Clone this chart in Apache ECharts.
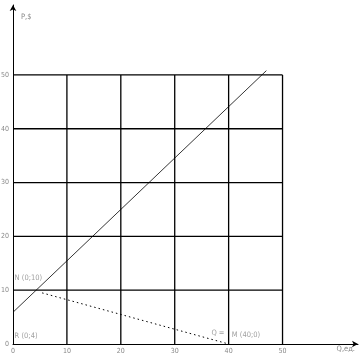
<!DOCTYPE html>
<html><head><meta charset="utf-8">
<script src="https://cdn.jsdelivr.net/npm/echarts@6/dist/echarts.min.js"></script>
<style>html,body{margin:0;padding:0;background:#fff}#c{width:362px;height:356px}</style>
</head><body><div id="c"></div>
<script>
var gridTicks = [10, 20, 30, 40, 50];
var gridMax = 50;
var supplyLine = [[0, 5.9], [47, 50.8]];
var demandLine = [[5.4, 9.5], [40, 0]];
var pointLabels = [
  {name: 'N (0;10)', value: [0.3, 12.3]},
  {name: 'R (0;4)', value: [0.3, 1.5]},
  {name: 'Q =', value: [36.8, 2.0]},
  {name: 'M (40;0)', value: [40.6, 1.6]}
];
var xName = 'Q,ед.';
var yName = 'P,$';

var font = '"Liberation Sans Narrow","DejaVu Sans Condensed",sans-serif';
var gridSeriesData = [];
gridTicks.forEach(function (t) {
  gridSeriesData.push([[0, t], [gridMax, t]]);
  gridSeriesData.push([[t, 0], [t, gridMax]]);
});
var series = [];
gridSeriesData.forEach(function (seg) {
  series.push({type: 'line', data: seg, symbol: 'none', silent: true,
    lineStyle: {color: '#000', width: 1.3}, animation: false});
});
series.push({type: 'line', data: supplyLine, symbol: 'none',
  lineStyle: {color: '#000', width: 0.8}, animation: false});
series.push({type: 'line', data: demandLine, symbol: 'none',
  lineStyle: {color: '#000', width: 1, type: [1.5, 3]}, animation: false});
series.push({type: 'scatter', data: pointLabels, symbolSize: 0, animation: false,
  label: {show: true, position: 'right', distance: 0, formatter: '{b}',
    color: '#888', fontSize: 7.5, fontFamily: font}});

var chart = echarts.init(document.getElementById('c'));
chart.setOption({
  animation: false,
  grid: {left: 13, right: 4, top: 5, bottom: 12, containLabel: false, outerBoundsMode: 'none'},
  xAxis: {type: 'value', min: 0, max: 64, interval: 10,
    name: xName, nameLocation: 'end', nameGap: -3,
    nameTextStyle: {color: '#888', fontSize: 7.5, fontFamily: font, align: 'right', verticalAlign: 'top', padding: [1, 0, 0, 0]},
    axisLine: {lineStyle: {color: '#000', width: 1}, symbol: ['none', 'arrow'], symbolSize: [5, 6]},
    axisTick: {show: false}, splitLine: {show: false},
    axisLabel: {color: '#888', fontSize: 7, fontFamily: font, margin: 4,
      formatter: function (v) { return v <= gridMax ? v : ''; }}},
  yAxis: {type: 'value', min: 0, max: 63, interval: 10,
    name: yName, nameLocation: 'end', nameGap: -16,
    nameTextStyle: {color: '#888', fontSize: 7.5, fontFamily: font, align: 'left', padding: [0, 0, 0, 8]},
    axisLine: {lineStyle: {color: '#000', width: 1}, symbol: ['none', 'arrow'], symbolSize: [5, 6]},
    axisTick: {show: false}, splitLine: {show: false},
    axisLabel: {color: '#888', fontSize: 7, fontFamily: font, margin: 4,
      formatter: function (v) { return v <= gridMax ? v : ''; }}},
  series: series
});
</script></body></html>
